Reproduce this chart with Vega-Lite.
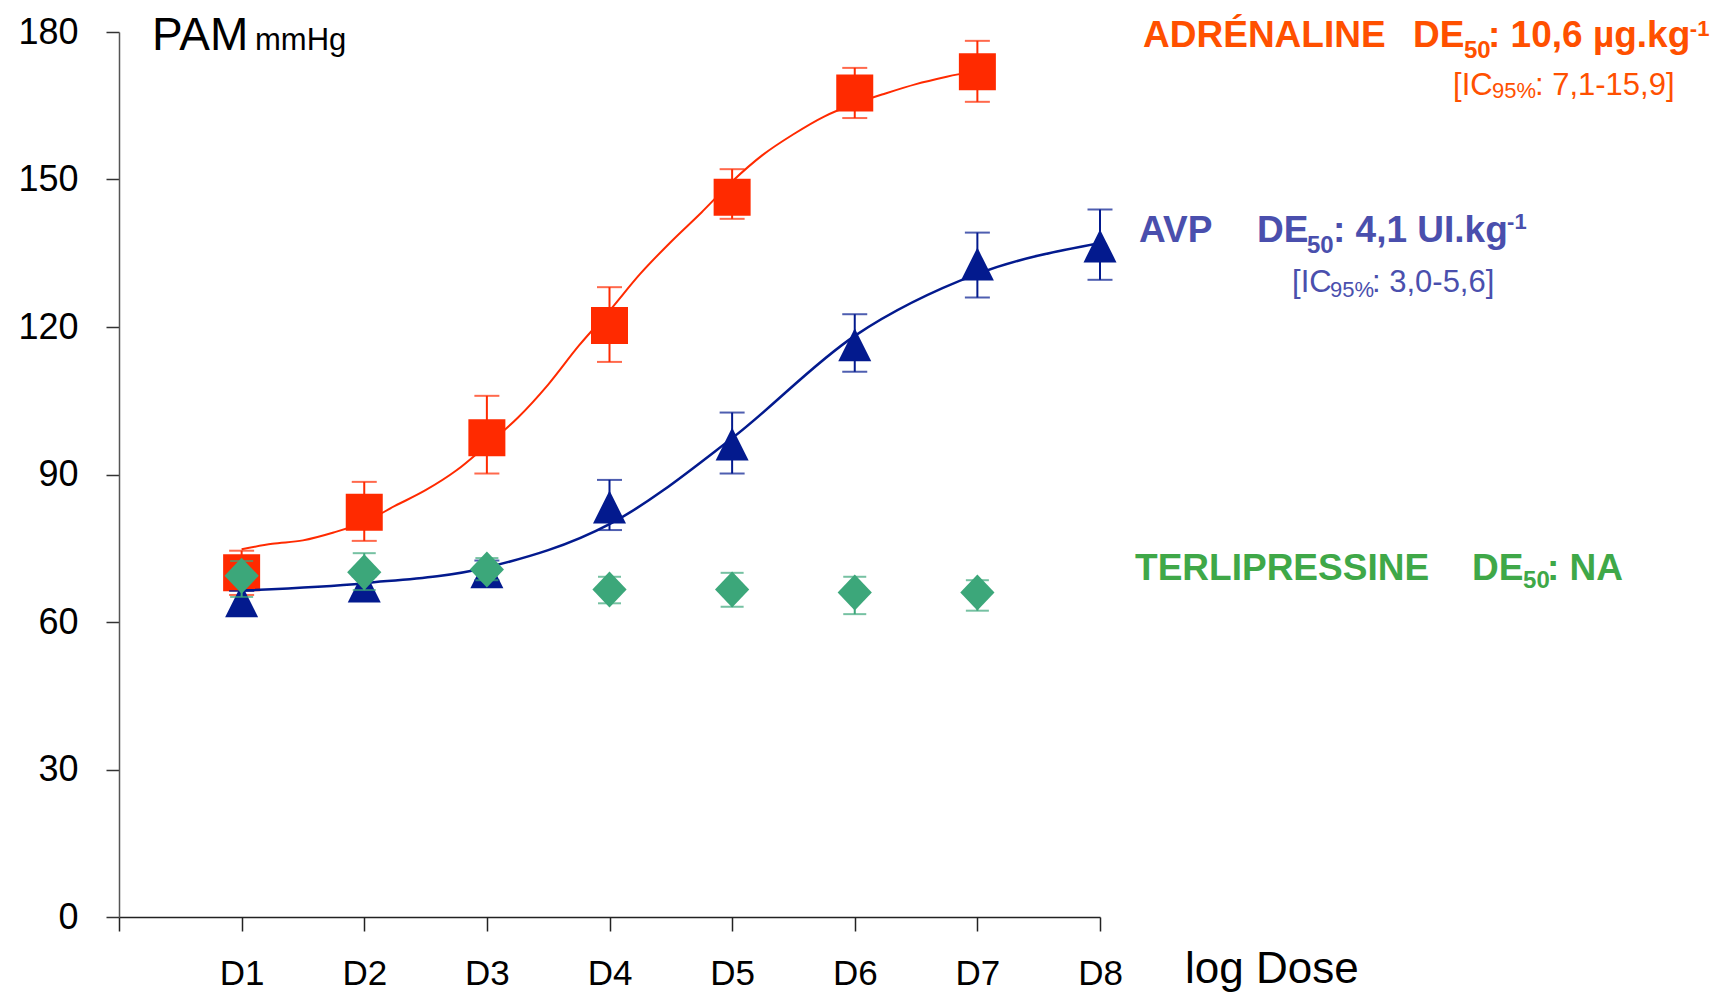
{
  "$schema": "https://vega.github.io/schema/vega-lite/v6.json",
  "autosize": "none",
  "width": 981,
  "height": 885,
  "padding": {"left": 119, "top": 32, "right": 631, "bottom": 75},
  "background": "white",
  "config": {
    "font": "Liberation Sans",
    "view": {"stroke": null},
    "axis": {"grid": false, "title": null, "labelFont": "Liberation Sans", "labelColor": "#000000", "domainColor": "#333333", "tickColor": "#333333", "domainWidth": 1.5, "tickWidth": 1.5}
  },
  "datasets": {
    "points": [
      {"drug": "ADRÉNALINE", "dose": 1, "mean": 70.0, "lo": 65.5, "hi": 74.5},
      {"drug": "ADRÉNALINE", "dose": 2, "mean": 82.3, "lo": 76.5, "hi": 88.5},
      {"drug": "ADRÉNALINE", "dose": 3, "mean": 97.5, "lo": 90.2, "hi": 106.0},
      {"drug": "ADRÉNALINE", "dose": 4, "mean": 120.3, "lo": 112.9, "hi": 128.1},
      {"drug": "ADRÉNALINE", "dose": 5, "mean": 146.4, "lo": 142.0, "hi": 152.1},
      {"drug": "ADRÉNALINE", "dose": 6, "mean": 167.6, "lo": 162.5, "hi": 172.7},
      {"drug": "ADRÉNALINE", "dose": 7, "mean": 171.9, "lo": 165.8, "hi": 178.2},
      {"drug": "AVP", "dose": 1, "mean": 64.3, "lo": 62.3, "hi": 66.3},
      {"drug": "AVP", "dose": 2, "mean": 67.3, "lo": 65.3, "hi": 69.3},
      {"drug": "AVP", "dose": 3, "mean": 70.2, "lo": 68.5, "hi": 72.5},
      {"drug": "AVP", "dose": 4, "mean": 83.4, "lo": 78.7, "hi": 88.9},
      {"drug": "AVP", "dose": 5, "mean": 96.2, "lo": 90.2, "hi": 102.6},
      {"drug": "AVP", "dose": 6, "mean": 116.4, "lo": 110.9, "hi": 122.6},
      {"drug": "AVP", "dose": 7, "mean": 132.8, "lo": 126.0, "hi": 139.2},
      {"drug": "AVP", "dose": 8, "mean": 136.5, "lo": 129.6, "hi": 143.9},
      {"drug": "TERLIPRESSINE", "dose": 1, "mean": 69.4, "lo": 65.1, "hi": 72.4},
      {"drug": "TERLIPRESSINE", "dose": 2, "mean": 70.1, "lo": 66.5, "hi": 74.0},
      {"drug": "TERLIPRESSINE", "dose": 3, "mean": 70.7, "lo": 68.5, "hi": 73.0},
      {"drug": "TERLIPRESSINE", "dose": 4, "mean": 66.6, "lo": 63.8, "hi": 69.2},
      {"drug": "TERLIPRESSINE", "dose": 5, "mean": 66.6, "lo": 63.1, "hi": 70.0},
      {"drug": "TERLIPRESSINE", "dose": 6, "mean": 66.0, "lo": 61.6, "hi": 69.2},
      {"drug": "TERLIPRESSINE", "dose": 7, "mean": 66.0, "lo": 62.3, "hi": 68.5}
    ],
    "fit": [
      {"drug": "ADRÉNALINE", "dose": 1, "pam": 74.8},
      {"drug": "ADRÉNALINE", "dose": 1.25, "pam": 75.9},
      {"drug": "ADRÉNALINE", "dose": 1.5, "pam": 76.6},
      {"drug": "ADRÉNALINE", "dose": 1.75, "pam": 78.2},
      {"drug": "ADRÉNALINE", "dose": 2, "pam": 80.3},
      {"drug": "ADRÉNALINE", "dose": 2.25, "pam": 83.6},
      {"drug": "ADRÉNALINE", "dose": 2.5, "pam": 86.8},
      {"drug": "ADRÉNALINE", "dose": 2.75, "pam": 90.8},
      {"drug": "ADRÉNALINE", "dose": 3, "pam": 96.0},
      {"drug": "ADRÉNALINE", "dose": 3.25, "pam": 101.5},
      {"drug": "ADRÉNALINE", "dose": 3.5, "pam": 108.3},
      {"drug": "ADRÉNALINE", "dose": 3.75, "pam": 116.2},
      {"drug": "ADRÉNALINE", "dose": 4, "pam": 123.3},
      {"drug": "ADRÉNALINE", "dose": 4.25, "pam": 130.8},
      {"drug": "ADRÉNALINE", "dose": 4.5, "pam": 137.3},
      {"drug": "ADRÉNALINE", "dose": 4.75, "pam": 143.3},
      {"drug": "ADRÉNALINE", "dose": 5, "pam": 149.6},
      {"drug": "ADRÉNALINE", "dose": 5.25, "pam": 155.0},
      {"drug": "ADRÉNALINE", "dose": 5.5, "pam": 159.2},
      {"drug": "ADRÉNALINE", "dose": 5.75, "pam": 162.8},
      {"drug": "ADRÉNALINE", "dose": 6, "pam": 165.4},
      {"drug": "ADRÉNALINE", "dose": 6.25, "pam": 167.5},
      {"drug": "ADRÉNALINE", "dose": 6.5, "pam": 169.4},
      {"drug": "ADRÉNALINE", "dose": 6.75, "pam": 170.9},
      {"drug": "ADRÉNALINE", "dose": 7, "pam": 172.2},
      {"drug": "AVP", "dose": 1, "pam": 66.4},
      {"drug": "AVP", "dose": 2, "pam": 67.9},
      {"drug": "AVP", "dose": 3, "pam": 71.1},
      {"drug": "AVP", "dose": 4, "pam": 79.9},
      {"drug": "AVP", "dose": 5, "pam": 97.4},
      {"drug": "AVP", "dose": 6, "pam": 118.2},
      {"drug": "AVP", "dose": 7, "pam": 130.8},
      {"drug": "AVP", "dose": 8, "pam": 137.1}
    ]
  },
  "layer": [
    {
      "data": {"name": "fit"},
      "transform": [{"filter": "datum.drug === 'ADRÉNALINE'"}],
      "mark": {"type": "line", "color": "#FF2A00", "strokeWidth": 2, "interpolate": "monotone"},
      "encoding": {
        "x": {"field": "dose", "type": "quantitative", "scale": {"domain": [0, 8], "nice": false, "zero": false},
          "axis": {"values": [0, 1, 2, 3, 4, 5, 6, 7, 8], "labelExpr": "datum.value == 0 ? '' : 'D' + datum.value", "tickSize": 14, "labelPadding": 53, "labelBaseline": "alphabetic", "labelFontSize": 35, "labelDx": -4, "labelFlush": false, "labelOverlap": false, "domainColor": "#222222", "tickColor": "#222222"}},
        "y": {"field": "pam", "type": "quantitative", "scale": {"domain": [0, 180], "nice": false},
          "axis": {"values": [0, 30, 60, 90, 120, 150, 180], "tickSize": 13, "labelPadding": 28, "labelFontSize": 36, "labelBaseline": "middle", "labelDy": -3, "domainColor": "#555555"}}
      }
    },
    {
      "data": {"name": "points"},
      "transform": [{"filter": "datum.drug === 'ADRÉNALINE'"}],
      "encoding": {"x": {"field": "dose", "type": "quantitative"}},
      "layer": [
        {"mark": {"type": "rule", "color": "#FF2A00", "strokeWidth": 2}, "encoding": {"y": {"field": "lo", "type": "quantitative"}, "y2": {"field": "hi"}}},
        {"mark": {"type": "tick", "orient": "horizontal", "color": "#FF2A00", "size": 25, "thickness": 2}, "encoding": {"y": {"field": "lo", "type": "quantitative"}}},
        {"mark": {"type": "tick", "orient": "horizontal", "color": "#FF2A00", "size": 25, "thickness": 2}, "encoding": {"y": {"field": "hi", "type": "quantitative"}}},
        {"mark": {"type": "point", "shape": "square", "filled": true, "color": "#FF2A00", "opacity": 1, "size": 1369}, "encoding": {"y": {"field": "mean", "type": "quantitative"}}}
      ]
    },
    {
      "data": {"name": "fit"},
      "transform": [{"filter": "datum.drug === 'AVP'"}],
      "mark": {"type": "line", "color": "#031A8E", "strokeWidth": 2.5, "interpolate": "monotone"},
      "encoding": {
        "x": {"field": "dose", "type": "quantitative"},
        "y": {"field": "pam", "type": "quantitative"}
      }
    },
    {
      "data": {"name": "points"},
      "transform": [{"filter": "datum.drug === 'AVP'"}],
      "encoding": {"x": {"field": "dose", "type": "quantitative"}},
      "layer": [
        {"mark": {"type": "rule", "color": "#031A8E", "strokeWidth": 2}, "encoding": {"y": {"field": "lo", "type": "quantitative"}, "y2": {"field": "hi"}}},
        {"mark": {"type": "tick", "orient": "horizontal", "color": "#031A8E", "size": 25, "thickness": 2}, "encoding": {"y": {"field": "lo", "type": "quantitative"}}},
        {"mark": {"type": "tick", "orient": "horizontal", "color": "#031A8E", "size": 25, "thickness": 2}, "encoding": {"y": {"field": "hi", "type": "quantitative"}}},
        {"mark": {"type": "point", "shape": "M0,-1L1,1L-1,1Z", "filled": true, "color": "#031A8E", "opacity": 1, "size": 1089}, "encoding": {"y": {"field": "mean", "type": "quantitative"}}}
      ]
    },
    {
      "data": {"name": "points"},
      "transform": [{"filter": "datum.drug === 'TERLIPRESSINE'"}],
      "encoding": {"x": {"field": "dose", "type": "quantitative"}},
      "layer": [
        {"mark": {"type": "rule", "color": "#3CA77A", "strokeWidth": 2}, "encoding": {"y": {"field": "lo", "type": "quantitative"}, "y2": {"field": "hi"}}},
        {"mark": {"type": "tick", "orient": "horizontal", "color": "#3CA77A", "size": 23, "thickness": 2}, "encoding": {"y": {"field": "lo", "type": "quantitative"}}},
        {"mark": {"type": "tick", "orient": "horizontal", "color": "#3CA77A", "size": 23, "thickness": 2}, "encoding": {"y": {"field": "hi", "type": "quantitative"}}},
        {"mark": {"type": "point", "shape": "M0,-1L0.95,0L0,1L-0.95,0Z", "filled": true, "color": "#3CA77A", "opacity": 1, "size": 1296}, "encoding": {"y": {"field": "mean", "type": "quantitative"}}}
      ]
    },
    {"data": {"values": [{}]}, "mark": {"type": "text", "align": "left", "baseline": "alphabetic", "fontSize": 46, "color": "#000000", "text": "PAM"}, "encoding": {"x": {"datum": 0.269}, "y": {"datum": 176.34}}},
    {"data": {"values": [{}]}, "mark": {"type": "text", "align": "left", "baseline": "alphabetic", "fontSize": 31, "color": "#000000", "text": "mmHg"}, "encoding": {"x": {"datum": 1.109}, "y": {"datum": 176.34}}},
    {"data": {"values": [{}]}, "mark": {"type": "text", "align": "left", "baseline": "alphabetic", "fontSize": 44, "color": "#000000", "text": "log Dose"}, "encoding": {"x": {"datum": 8.693}, "y": {"datum": -13.4}}},

    {"data": {"values": [{}]}, "mark": {"type": "text", "align": "left", "baseline": "alphabetic", "fontSize": 37, "fontWeight": "bold", "color": "#FF5000", "text": "ADRÉNALINE"}, "encoding": {"x": {"datum": 8.351}, "y": {"datum": 176.95}}},
    {"data": {"values": [{}]}, "mark": {"type": "text", "align": "left", "baseline": "alphabetic", "fontSize": 37, "fontWeight": "bold", "color": "#FF5000", "text": "DE"}, "encoding": {"x": {"datum": 10.553}, "y": {"datum": 176.95}}},
    {"data": {"values": [{}]}, "mark": {"type": "text", "align": "left", "baseline": "alphabetic", "fontSize": 24, "fontWeight": "bold", "color": "#FF5000", "text": "50"}, "encoding": {"x": {"datum": 10.968}, "y": {"datum": 174.7}}},
    {"data": {"values": [{}]}, "mark": {"type": "text", "align": "left", "baseline": "alphabetic", "fontSize": 37, "fontWeight": "bold", "color": "#FF5000", "text": ": 10,6 µg.kg"}, "encoding": {"x": {"datum": 11.164}, "y": {"datum": 176.95}}},
    {"data": {"values": [{}]}, "mark": {"type": "text", "align": "left", "baseline": "alphabetic", "fontSize": 22, "fontWeight": "bold", "color": "#FF5000", "text": "-1"}, "encoding": {"x": {"datum": 12.81}, "y": {"datum": 179.2}}},
    {"data": {"values": [{}]}, "mark": {"type": "text", "align": "left", "baseline": "alphabetic", "fontSize": 31, "color": "#FF5000", "text": "[IC"}, "encoding": {"x": {"datum": 10.879}, "y": {"datum": 167.19}}},
    {"data": {"values": [{}]}, "mark": {"type": "text", "align": "left", "baseline": "alphabetic", "fontSize": 22, "color": "#FF5000", "text": "95%"}, "encoding": {"x": {"datum": 11.197}, "y": {"datum": 166.58}}},
    {"data": {"values": [{}]}, "mark": {"type": "text", "align": "left", "baseline": "alphabetic", "fontSize": 31, "color": "#FF5000", "text": ": 7,1-15,9]"}, "encoding": {"x": {"datum": 11.547}, "y": {"datum": 167.19}}},

    {"data": {"values": [{}]}, "mark": {"type": "text", "align": "left", "baseline": "alphabetic", "fontSize": 37, "fontWeight": "bold", "color": "#4A4FAD", "text": "AVP"}, "encoding": {"x": {"datum": 8.318}, "y": {"datum": 137.29}}},
    {"data": {"values": [{}]}, "mark": {"type": "text", "align": "left", "baseline": "alphabetic", "fontSize": 37, "fontWeight": "bold", "color": "#4A4FAD", "text": "DE"}, "encoding": {"x": {"datum": 9.28}, "y": {"datum": 137.29}}},
    {"data": {"values": [{}]}, "mark": {"type": "text", "align": "left", "baseline": "alphabetic", "fontSize": 24, "fontWeight": "bold", "color": "#4A4FAD", "text": "50"}, "encoding": {"x": {"datum": 9.688}, "y": {"datum": 135.05}}},
    {"data": {"values": [{}]}, "mark": {"type": "text", "align": "left", "baseline": "alphabetic", "fontSize": 37, "fontWeight": "bold", "color": "#4A4FAD", "text": ": 4,1 UI.kg"}, "encoding": {"x": {"datum": 9.9}, "y": {"datum": 137.29}}},
    {"data": {"values": [{}]}, "mark": {"type": "text", "align": "left", "baseline": "alphabetic", "fontSize": 22, "fontWeight": "bold", "color": "#4A4FAD", "text": "-1"}, "encoding": {"x": {"datum": 11.32}, "y": {"datum": 139.93}}},
    {"data": {"values": [{}]}, "mark": {"type": "text", "align": "left", "baseline": "alphabetic", "fontSize": 31, "color": "#4A4FAD", "text": "[IC"}, "encoding": {"x": {"datum": 9.566}, "y": {"datum": 127.12}}},
    {"data": {"values": [{}]}, "mark": {"type": "text", "align": "left", "baseline": "alphabetic", "fontSize": 22, "color": "#4A4FAD", "text": "95%"}, "encoding": {"x": {"datum": 9.876}, "y": {"datum": 126.1}}},
    {"data": {"values": [{}]}, "mark": {"type": "text", "align": "left", "baseline": "alphabetic", "fontSize": 31, "color": "#4A4FAD", "text": ": 3,0-5,6]"}, "encoding": {"x": {"datum": 10.218}, "y": {"datum": 127.12}}},

    {"data": {"values": [{}]}, "mark": {"type": "text", "align": "left", "baseline": "alphabetic", "fontSize": 37, "fontWeight": "bold", "color": "#3FA848", "text": "TERLIPRESSINE"}, "encoding": {"x": {"datum": 8.286}, "y": {"datum": 68.54}}},
    {"data": {"values": [{}]}, "mark": {"type": "text", "align": "left", "baseline": "alphabetic", "fontSize": 37, "fontWeight": "bold", "color": "#3FA848", "text": "DE"}, "encoding": {"x": {"datum": 11.034}, "y": {"datum": 68.54}}},
    {"data": {"values": [{}]}, "mark": {"type": "text", "align": "left", "baseline": "alphabetic", "fontSize": 24, "fontWeight": "bold", "color": "#3FA848", "text": "50"}, "encoding": {"x": {"datum": 11.45}, "y": {"datum": 66.91}}},
    {"data": {"values": [{}]}, "mark": {"type": "text", "align": "left", "baseline": "alphabetic", "fontSize": 37, "fontWeight": "bold", "color": "#3FA848", "text": ": NA"}, "encoding": {"x": {"datum": 11.645}, "y": {"datum": 68.54}}}
  ]
}
